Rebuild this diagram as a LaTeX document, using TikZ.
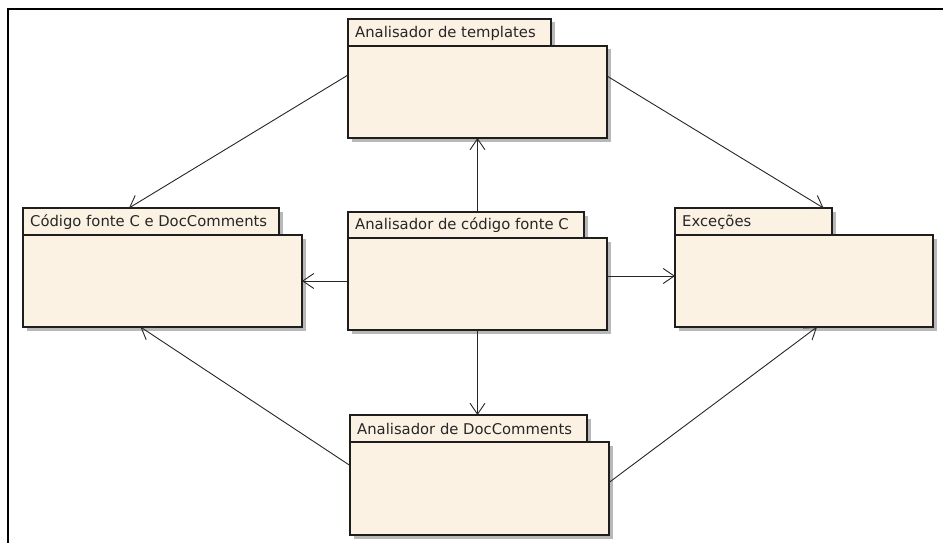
\documentclass[tikz,border=0pt]{standalone}
\usepackage{fontspec}
\setmainfont{DejaVu Sans}
\usetikzlibrary{calc,arrows.meta,shadows}
\definecolor{pkgfill}{RGB}{252,242,228}
\definecolor{pkgline}{RGB}{30,30,30}
\tikzset{
  pkgpart/.style={draw=pkgline, fill=pkgfill, line width=1.4pt, inner sep=0pt, outer sep=0pt,
    anchor=north west,
    drop shadow={shadow xshift=3.5pt, shadow yshift=-3.5pt, fill=black!28, opacity=1}},
  pkglabel/.style={anchor=west, inner sep=0pt, font=\fontsize{14.8}{16}\selectfont, text=black!85},
  dep/.style={draw=black!85, line width=0.9pt, -{Straight Barb[length=11pt,width=15pt,line width=0.9pt]}}
}
\begin{document}
\begin{tikzpicture}[x=1pt,y=-1pt]
\useasboundingbox (0,0) rectangle (943,543);
% outer frame
\draw[line width=2pt] (8,543) -- (8,9) -- (943,9);

% Analisador de templates
\node[pkgpart, minimum width=203pt, minimum height=27pt] (Ttab) at (348,19) {};
\node[pkgpart, minimum width=259pt, minimum height=92pt] (T) at (348,46) {};
\node[pkglabel] (Tlbl) at ($(Ttab.west)+(7,0.5)$) {Analisador de templates};

% Código fonte C e DocComments
\node[pkgpart, minimum width=256pt, minimum height=27pt] (Ltab) at (23,208) {};
\node[pkgpart, minimum width=279pt, minimum height=92pt] (L) at (23,235) {};
\node[pkglabel] (Llbl) at ($(Ltab.west)+(7,0.5)$) {Código fonte C e DocComments};

% Analisador de código fonte C
\node[pkgpart, minimum width=236pt, minimum height=26pt] (Ctab) at (348,212) {};
\node[pkgpart, minimum width=259pt, minimum height=92pt] (C) at (348,238) {};
\node[pkglabel] (Clbl) at ($(Ctab.west)+(7,0.5)$) {Analisador de código fonte C};

% Exceções
\node[pkgpart, minimum width=157pt, minimum height=27pt] (Rtab) at (675,208) {};
\node[pkgpart, minimum width=258pt, minimum height=92pt] (R) at (675,235) {};
\node[pkglabel] (Rlbl) at ($(Rtab.west)+(7,0.5)$) {Exceções};

% Analisador de DocComments
\node[pkgpart, minimum width=237pt, minimum height=27pt] (Btab) at (350,415) {};
\node[pkgpart, minimum width=259pt, minimum height=93pt] (B) at (350,442) {};
\node[pkglabel] (Blbl) at ($(Btab.west)+(7,0.5)$) {Analisador de DocComments};

% dependencies
\draw[dep] ($(T.west)+(0,-17)$) -- ($(Ltab.north)+(-22,0)$);
\draw[dep] ($(T.east)+(0,-16)$) -- ($(Rtab.north)+(70,0)$);
\draw[dep] (T.south |- Ctab.north) -- (T.south);
\draw[dep] (C.west |- L.east) -- (L.east);
\draw[dep] ($(C.east)+(0,-8)$) -- ($(R.west)+(0,-5)$);
\draw[dep] (C.south) -- (C.south |- Btab.north);
\draw[dep] ($(B.west)+(0,-23)$) -- ($(L.south)+(-22,0)$);
\draw[dep] ($(B.east)+(0,-6)$) -- ($(R.south)+(13,0)$);
\end{tikzpicture}
\end{document}
